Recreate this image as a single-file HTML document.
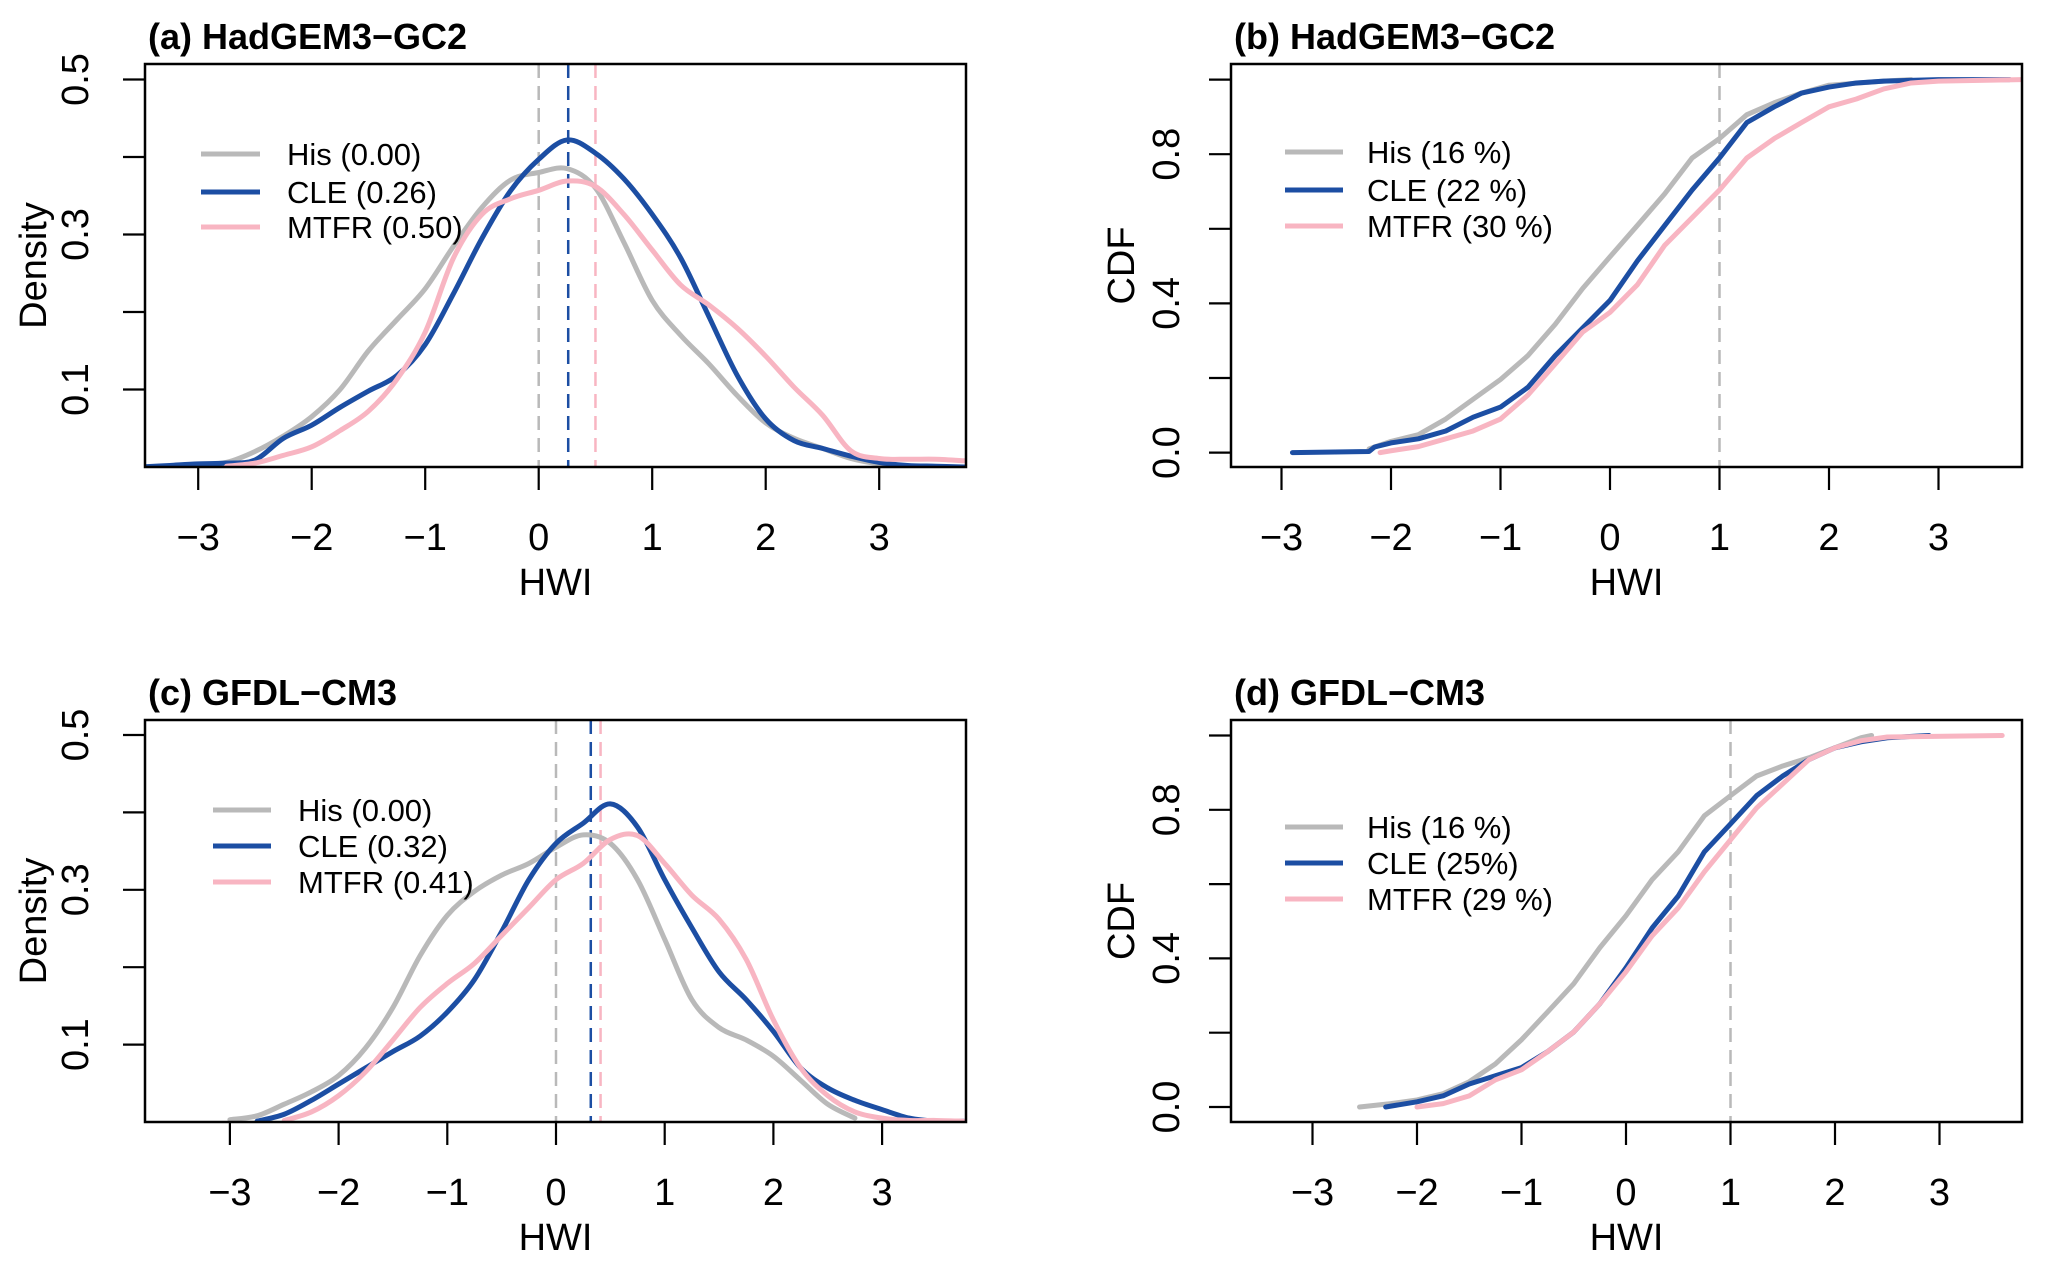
<!DOCTYPE html>
<html><head><meta charset="utf-8"><style>
html,body{margin:0;padding:0;background:#fff;}
svg{display:block;}
text{font-family:"Liberation Sans",Arial,sans-serif;fill:#000;}
</style></head>
<body>
<svg id="fig" width="2067" height="1268" viewBox="0 0 2067 1268" xmlns="http://www.w3.org/2000/svg"></svg>
<script>
// ---- data ----
const gridX = [-3.5,-3.25,-3,-2.75,-2.5,-2.25,-2,-1.75,-1.5,-1.25,-1,-0.75,-0.5,-0.25,0,0.25,0.5,0.75,1,1.25,1.5,1.75,2,2.25,2.5,2.75,3,3.25,3.5,3.75];
const aHis  = [0,0.001,0.003,0.006,0.02,0.04,0.065,0.1,0.15,0.19,0.23,0.285,0.335,0.37,0.38,0.385,0.36,0.29,0.215,0.17,0.133,0.092,0.057,0.037,0.024,0.011,0.004,0.001,0,0];
const aCLE  = [0,0.002,0.004,0.005,0.009,0.037,0.054,0.077,0.098,0.118,0.158,0.224,0.295,0.356,0.397,0.422,0.405,0.372,0.326,0.27,0.194,0.118,0.062,0.034,0.024,0.014,0.006,0.002,0.001,0];
const aMTFR = [null,null,null,0.001,0.005,0.015,0.026,0.047,0.072,0.113,0.174,0.27,0.326,0.346,0.357,0.369,0.362,0.326,0.28,0.235,0.209,0.179,0.143,0.103,0.067,0.021,0.011,0.01,0.01,0.008];
const cHis  = [null,null,0.003,0.008,0.023,0.039,0.06,0.096,0.148,0.215,0.267,0.298,0.319,0.334,0.355,0.371,0.36,0.313,0.236,0.158,0.122,0.106,0.085,0.054,0.023,0.005,null,null,null,null];
const cCLE  = [null,null,null,0.001,0.01,0.028,0.049,0.07,0.091,0.111,0.142,0.184,0.246,0.313,0.36,0.386,0.411,0.381,0.313,0.251,0.194,0.158,0.117,0.07,0.044,0.028,0.016,0.005,0.001,0.001];
const cMTFR = [null,null,null,null,0.002,0.013,0.034,0.065,0.106,0.148,0.179,0.205,0.241,0.277,0.313,0.334,0.365,0.37,0.334,0.293,0.262,0.21,0.132,0.07,0.034,0.013,0.005,0.002,0.002,0.001];
const bHisX  = [-2.2,-2,-1.75,-1.5,-1.25,-1,-0.75,-0.5,-0.25,0,0.25,0.5,0.75,1,1.25,1.5,1.75,2,2.5,2.75];
const bHisY  = [0.01,0.03,0.048,0.09,0.143,0.196,0.26,0.344,0.44,0.525,0.609,0.694,0.79,0.842,0.906,0.938,0.964,0.985,0.996,1];
const bCLEX  = [-2.9,-2.2,-2.15,-2,-1.75,-1.5,-1.25,-1,-0.75,-0.5,-0.25,0,0.25,0.5,0.75,1,1.25,1.5,1.75,2,2.25,2.5,3,3.65];
const bCLEY  = [0,0.003,0.015,0.026,0.037,0.058,0.095,0.122,0.175,0.26,0.334,0.408,0.514,0.609,0.704,0.79,0.885,0.927,0.964,0.98,0.991,0.996,1,1];
const bMTFRX = [-2.1,-2,-1.75,-1.5,-1.25,-1,-0.75,-0.5,-0.25,0,0.25,0.5,0.75,1,1.25,1.5,1.75,2,2.25,2.5,2.75,3,3.75];
const bMTFRY = [0,0.005,0.016,0.037,0.058,0.09,0.154,0.238,0.323,0.376,0.45,0.556,0.63,0.704,0.79,0.842,0.885,0.927,0.948,0.975,0.991,0.996,1];
const dHisX  = [-2.55,-2.25,-2,-1.75,-1.5,-1.25,-1,-0.75,-0.5,-0.25,0,0.25,0.5,0.75,1,1.25,1.5,1.75,2,2.25,2.35];
const dHisY  = [0,0.009,0.019,0.036,0.068,0.116,0.181,0.256,0.332,0.429,0.515,0.612,0.687,0.784,0.838,0.891,0.918,0.94,0.967,0.994,1];
const dCLEX  = [-2.3,-2,-1.75,-1.5,-1.25,-1,-0.75,-0.5,-0.25,0,0.25,0.5,0.75,1,1.25,1.5,1.75,2,2.25,2.5,2.9];
const dCLEY  = [0,0.014,0.03,0.062,0.084,0.106,0.149,0.202,0.278,0.375,0.482,0.568,0.687,0.762,0.838,0.891,0.935,0.967,0.983,0.994,1];
const dMTFRX = [-2,-1.75,-1.5,-1.25,-1,-0.75,-0.5,-0.25,0,0.25,0.5,0.75,1,1.25,1.5,1.75,2,2.25,2.5,3.6];
const dMTFRY = [0,0.009,0.03,0.073,0.1,0.149,0.202,0.278,0.364,0.461,0.536,0.633,0.719,0.805,0.87,0.935,0.967,0.986,0.996,1];
const xTicks = [-3,-2,-1,0,1,2,3];
const xTickLabels = ["\u22123","\u22122","\u22121","0","1","2","3"];
const densTicks = [0.1,0.2,0.3,0.4,0.5];
const densLabels = ["0.1","0.3","0.5"];
const cdfTicks = [0,0.2,0.4,0.6,0.8,1.0];
const cdfLabels = ["0.0","0.4","0.8"];
const aMeans = [0,0.26,0.50];
const cMeans = [0,0.32,0.41];
const aLegend = ["His (0.00)","CLE (0.26)","MTFR (0.50)"];
const bLegend = ["His (16 %)","CLE (22 %)","MTFR (30 %)"];
const cLegend = ["His (0.00)","CLE (0.32)","MTFR (0.41)"];
const dLegend = ["His (16 %)","CLE (25%)","MTFR (29 %)"];

const COL = ["#b9b9b9","#1c4ea3","#f8b5c2"];
const svg = document.getElementById('fig');
const NS = "http://www.w3.org/2000/svg";
function el(tag, attrs, parent){const e=document.createElementNS(NS,tag);for(const k in attrs)e.setAttribute(k,attrs[k]);(parent||svg).appendChild(e);return e;}
function txt(x,y,s,size,opts,parent){const t=el('text',Object.assign({x:x,y:y,'font-size':size},opts||{}),parent);t.textContent=s;return t;}
function smoothPath(pts){
  if(pts.length<2) return '';
  let d='M'+pts[0][0].toFixed(2)+','+pts[0][1].toFixed(2);
  for(let i=0;i<pts.length-1;i++){
    const p0=pts[Math.max(0,i-1)],p1=pts[i],p2=pts[i+1],p3=pts[Math.min(pts.length-1,i+2)];
    const c1x=p1[0]+(p2[0]-p0[0])/6,c1y=p1[1]+(p2[1]-p0[1])/6;
    const c2x=p2[0]-(p3[0]-p1[0])/6,c2y=p2[1]-(p3[1]-p1[1])/6;
    d+=` C${c1x.toFixed(2)},${c1y.toFixed(2)} ${c2x.toFixed(2)},${c2y.toFixed(2)} ${p2[0].toFixed(2)},${p2[1].toFixed(2)}`;
  }
  return d;
}

const panels = [
 {id:'a',title:'(a) HadGEM3\u2212GC2',L:145,R:966,T:64,B:467,x0:538.7,ux:113.5,y0:467,uy:775,yt:densTicks,yl:densLabels,ylab:'Density',labX:32,tickLabX:74,
  leg:aLegend,lx1:201,lx2:260,ly:[154,192,227],tx:287,means:aMeans,dens:[aHis,aCLE,aMTFR]},
 {id:'b',title:'(b) HadGEM3\u2212GC2',L:1231,R:2022,T:64,B:467,x0:1610,ux:109.5,y0:452.6,uy:373,yt:cdfTicks,yl:cdfLabels,ylab:'CDF',labX:1120,tickLabX:1165,
  leg:bLegend,lx1:1285,lx2:1343,ly:[152,190,226],tx:1367,means:[1],cdf:[[bHisX,bHisY],[bCLEX,bCLEY],[bMTFRX,bMTFRY]]},
 {id:'c',title:'(c) GFDL\u2212CM3',L:145,R:966,T:720,B:1122,x0:556,ux:108.7,y0:1122,uy:774,yt:densTicks,yl:densLabels,ylab:'Density',labX:32,tickLabX:74,
  leg:cLegend,lx1:213,lx2:271,ly:[810,846,882],tx:298,means:cMeans,dens:[cHis,cCLE,cMTFR]},
 {id:'d',title:'(d) GFDL\u2212CM3',L:1231,R:2022,T:720,B:1122,x0:1626,ux:104.5,y0:1107,uy:371.5,yt:cdfTicks,yl:cdfLabels,ylab:'CDF',labX:1120,tickLabX:1165,
  leg:dLegend,lx1:1285,lx2:1343,ly:[827,863,899],tx:1367,means:[1],cdf:[[dHisX,dHisY],[dCLEX,dCLEY],[dMTFRX,dMTFRY]]}
];
const names=['his','cle','mtfr'];
panels.forEach(p=>{
  const g = el('g',{});
  
  
  const X = v => p.x0 + v*p.ux;
  const Y = v => p.y0 - v*p.uy;
  const cp = el('clipPath',{id:'clip'+p.id},g);
  el('rect',{x:p.L,y:p.T,width:p.R-p.L,height:p.B-p.T},cp);
  const cg = el('g',{'clip-path':'url(#clip'+p.id+')'},g);
  const mcols = p.means.length===1 ? [COL[0]] : COL;
  p.means.forEach((m,i)=>{
    const l=el('line',{x1:X(m),x2:X(m),y1:p.T,y2:p.B,stroke:mcols[i],'stroke-width':2.5,'stroke-dasharray':'14 8'},cg);
    
    
  });
  if(p.dens){
    p.dens.forEach((arr,i)=>{
      let pts=[];
      arr.forEach((v,j)=>{ if(v!==null) pts.push([X(gridX[j]),Y(v)]); });
      const pl=el('path',{d:smoothPath(pts),fill:'none',stroke:COL[i],'stroke-width':5,'stroke-linejoin':'round','stroke-linecap':'round'},cg);
      
      
    });
  } else {
    p.cdf.forEach((s,i)=>{
      const pts=s[0].map((x,j)=>X(x).toFixed(2)+','+Y(s[1][j]).toFixed(2));
      const pl=el('polyline',{points:pts.join(' '),fill:'none',stroke:COL[i],'stroke-width':5,'stroke-linejoin':'round','stroke-linecap':'round'},cg);
      
      
    });
  }
  const box=el('rect',{x:p.L,y:p.T,width:p.R-p.L,height:p.B-p.T,fill:'none',stroke:'#000','stroke-width':2.5},g);
  
  
  xTicks.forEach((v,i)=>{
    el('line',{x1:X(v),x2:X(v),y1:p.B,y2:p.B+23,stroke:'#000','stroke-width':2.2},g);
    const t=txt(X(v),p.B+83,xTickLabels[i],38,{'text-anchor':'middle'},g);
    
    
  });
  const xl=txt((p.L+p.R)/2,p.B+128,'HWI',38,{'text-anchor':'middle'},g);
  
  
  p.yt.forEach(v=>{ el('line',{x1:p.L-22,x2:p.L,y1:Y(v),y2:Y(v),stroke:'#000','stroke-width':2.2},g); });
  p.yl.forEach(s=>{
    const v=parseFloat(s);
    const t=el('text',{x:0,y:0,'font-size':38,'text-anchor':'middle',transform:`translate(${p.tickLabX+14},${Y(v)}) rotate(-90)`},g);
    t.textContent=s;
    
    
  });
  const yl=el('text',{x:0,y:0,'font-size':38,'text-anchor':'middle',transform:`translate(${p.labX+14},${(p.T+p.B)/2}) rotate(-90)`},g);
  yl.textContent=p.ylab;
  
  
  const tt=txt(p.L+3,p.T-15,p.title,36,{'font-weight':'bold'},g);
  
  
  p.leg.forEach((s,i)=>{
    const le=el('g',{},g);
    
    
    el('line',{x1:p.lx1,x2:p.lx2,y1:p.ly[i],y2:p.ly[i],stroke:COL[i],'stroke-width':5},le);
    txt(p.tx,p.ly[i]+11,s,31,{},le);
  });
});
</script>
</body></html>
